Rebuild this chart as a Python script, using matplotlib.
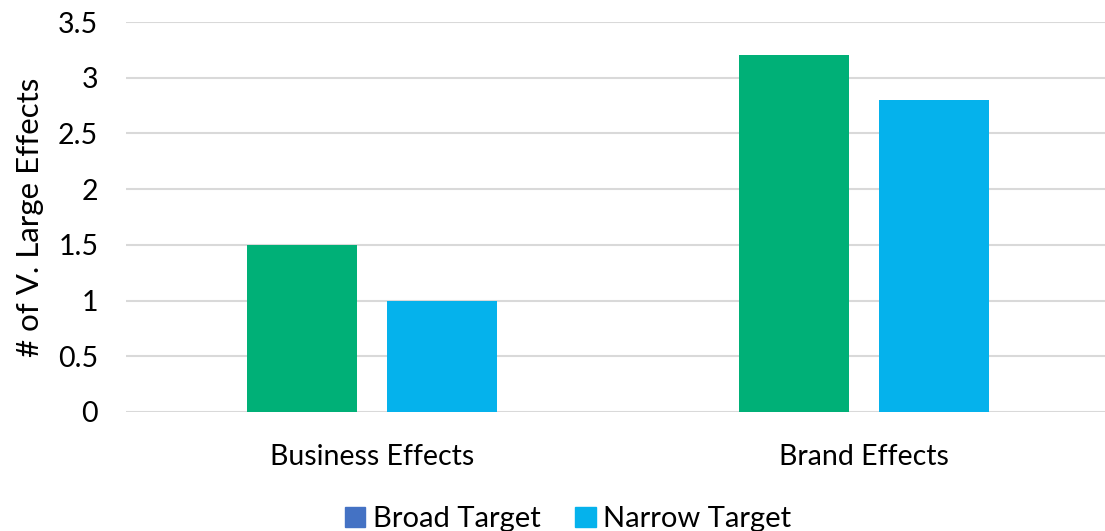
import matplotlib.pyplot as plt
from matplotlib.patches import Patch
import numpy as np

categories = ["Business Effects", "Brand Effects"]
broad_target = [1.5, 3.2]
narrow_target = [1.0, 2.8]
series_names = ["Broad Target", "Narrow Target"]

plt.rcParams["font.family"] = ["Lato", "DejaVu Sans"]

fig = plt.figure(figsize=(11.05, 5.31), dpi=100)
ax = fig.add_axes([126 / 1105, 119 / 531, 979 / 1105, 390 / 531])

x = np.arange(len(categories))
bar_w = 0.2236
offset = 0.1423
ax.bar(x - offset, broad_target, bar_w, color="#00B077", zorder=3)
ax.bar(x + offset, narrow_target, bar_w, color="#05B2EC", zorder=3)

ax.set_xlim(-0.5, 1.49)
ax.set_ylim(0, 3.5)
ax.set_yticks(np.arange(0, 3.51, 0.5))
ax.set_yticklabels(["0", "0.5", "1", "1.5", "2", "2.5", "3", "3.5"])
ax.set_xticks(x)
ax.set_xticklabels(categories)
ax.grid(axis="y", color="#D9D9D9", linewidth=1.5, zorder=0)
ax.tick_params(axis="y", length=0, pad=20, labelsize=20.5)
ax.tick_params(axis="x", length=0, pad=23, labelsize=20.5)
for s in ax.spines.values():
    s.set_visible(False)

ax.set_ylabel("# of V. Large Effects", fontsize=22.5, labelpad=10)

handles = [Patch(color="#4472C4"), Patch(color="#05B2EC")]
fig.legend(handles, series_names, loc="center", bbox_to_anchor=(568 / 1105, 1 - 519 / 531),
           ncol=2, frameon=False, fontsize=21, handlelength=0.7, handleheight=0.7,
           handletextpad=0.25, columnspacing=1.2)

fig.savefig("out.png", dpi=100)
